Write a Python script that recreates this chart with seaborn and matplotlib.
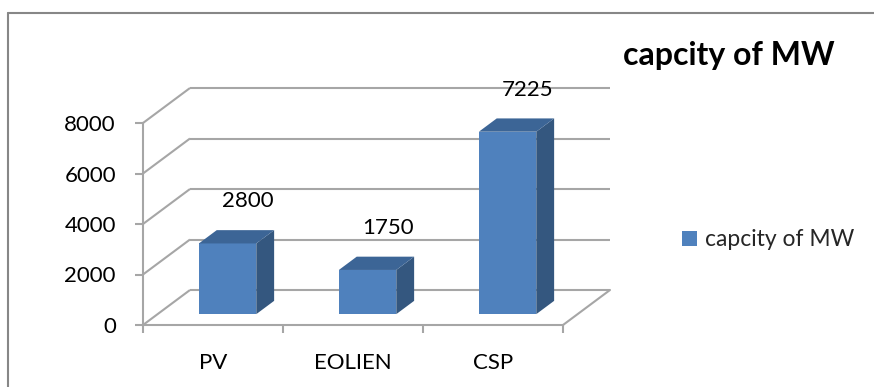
import matplotlib
matplotlib.use("Agg")
import matplotlib.pyplot as plt
import pandas as pd
import seaborn as sns
from matplotlib.patches import Polygon, Patch
from matplotlib.lines import Line2D
from matplotlib.transforms import Affine2D

# ---- data ----
categories = ["PV", "EOLIEN", "CSP"]
capacity_mw = [2800, 1750, 7225]
series_name = "capcity of MW"
y_ticks = [0, 2000, 4000, 6000, 8000]

# ---- styling ----
FRONT = "#4F81BD"
SIDE = "#34577F"
TOP = "#3C6596"
GRID = "#a6a6a6"
FRAME = "#878787"
TXT = 16

W, H, DPI = 874, 387, 100

sns.set_theme(style="white")
plt.rcParams["font.family"] = ["Lato", "DejaVu Sans"]

fig = plt.figure(figsize=(W / DPI, H / DPI), dpi=DPI)

# axes placement (pixels): front y-axis at x0, floor at ybase
x0_px, x1_px = 143, 640
ybase_px, ytop_px = 325, 78
unit_px = 140                      # width of one category slot
val_per_px = 8000 / (325 - 123)    # value units per pixel

ax = fig.add_axes([x0_px / W, 1 - ybase_px / H,
                   (x1_px - x0_px) / W, (ybase_px - ytop_px) / H])

# depth of the 3-D box (front plane -> back wall), in data units
DX = 47 / unit_px
DY = 35 * val_per_px
D_FRONT, D_DEPTH = 0.31, 0.38      # bar placement inside the box
BAR_W = 0.41

df = pd.DataFrame({"category": categories, "capacity": capacity_mw})

# back wall gridlines, side wall diagonals and floor edge
for v in y_ticks:
    ax.plot([-0.5, -0.5 + DX], [v, v + DY], color=GRID, lw=1.5,
            zorder=1, solid_capstyle="butt", clip_on=False)
    ax.plot([-0.5 + DX, 2.5 + DX], [v + DY, v + DY], color=GRID, lw=1.5,
            zorder=1, solid_capstyle="butt", clip_on=False)
ax.plot([2.5, 2.5 + DX], [0, DY], color=GRID, lw=1.5, zorder=1, clip_on=False)

# front faces of the bars
sns.barplot(data=df, x="category", y="capacity", color=FRONT, saturation=1,
            width=BAR_W, edgecolor="none", linewidth=0, ax=ax, zorder=3)
shift = Affine2D().translate(D_FRONT * DX, D_FRONT * DY)
for p in ax.patches:
    p.set_transform(shift + ax.transData)

# side and top faces
ddx, ddy = D_DEPTH * DX, D_DEPTH * DY
for i, v in enumerate(capacity_mw):
    xl = i - BAR_W / 2 + D_FRONT * DX
    xr = i + BAR_W / 2 + D_FRONT * DX
    yb = D_FRONT * DY
    yt = v + D_FRONT * DY
    ax.add_patch(Polygon([(xr, yb), (xr + ddx, yb + ddy), (xr + ddx, yt + ddy), (xr, yt)],
                         closed=True, facecolor=SIDE, edgecolor="none", zorder=3))
    ax.add_patch(Polygon([(xl, yt), (xr, yt), (xr + ddx, yt + ddy), (xl + ddx, yt + ddy)],
                         closed=True, facecolor=TOP, edgecolor="none", zorder=3))
    ax.text(i + 0.25, v + 2100, f"{v}", ha="center", va="center",
            fontsize=TXT, color="black", zorder=4)

ax.set_xlim(-0.5, -0.5 + (x1_px - x0_px) / unit_px)
ax.set_ylim(0, (ybase_px - ytop_px) * val_per_px)

# axes lines and ticks
for s in ("top", "right"):
    ax.spines[s].set_visible(False)
ax.spines["left"].set_bounds(0, 8000)
ax.spines["bottom"].set_bounds(-0.5, 2.5)
for s in ("left", "bottom"):
    ax.spines[s].set_color(GRID)
    ax.spines[s].set_linewidth(1.5)

ax.set_yticks(y_ticks)
ax.set_yticklabels([str(t) for t in y_ticks])
ax.set_xticks(range(len(categories)))
ax.set_xticklabels(categories)
ax.set_xticks([-0.5, 0.5, 1.5, 2.5], minor=True)
ax.tick_params(axis="y", which="major", left=True, length=5.5, width=1.5,
               color=GRID, pad=14, labelsize=TXT, labelcolor="black")
ax.tick_params(axis="x", which="major", bottom=True, length=0, pad=20,
               labelsize=TXT, labelcolor="black")
ax.tick_params(axis="x", which="minor", bottom=True, length=6, width=1.5, color=GRID)
ax.set_xlabel("")
ax.set_ylabel("")
ax.patch.set_alpha(0)

# title and legend
fig.text(623 / W, 1 - 65 / H, series_name, fontsize=23, fontweight="bold",
         ha="left", va="baseline", color="black")
fig.legend(handles=[Patch(facecolor=FRONT, edgecolor="none", label=series_name)],
           loc="center left", bbox_to_anchor=(682 / W, 1 - 240 / H),
           frameon=False, fontsize=16.5, handlelength=0.65, handleheight=0.65,
           handletextpad=0.35, borderpad=0, borderaxespad=0)

# outer frame
fig.add_artist(Line2D([8 / W, 1], [1 - 13 / H, 1 - 13 / H], color=FRAME, lw=1.5,
                      transform=fig.transFigure))
fig.add_artist(Line2D([8 / W, 8 / W], [1 - 13 / H, 0], color=FRAME, lw=1.5,
                      transform=fig.transFigure))

fig.savefig("out.png", dpi=DPI)
